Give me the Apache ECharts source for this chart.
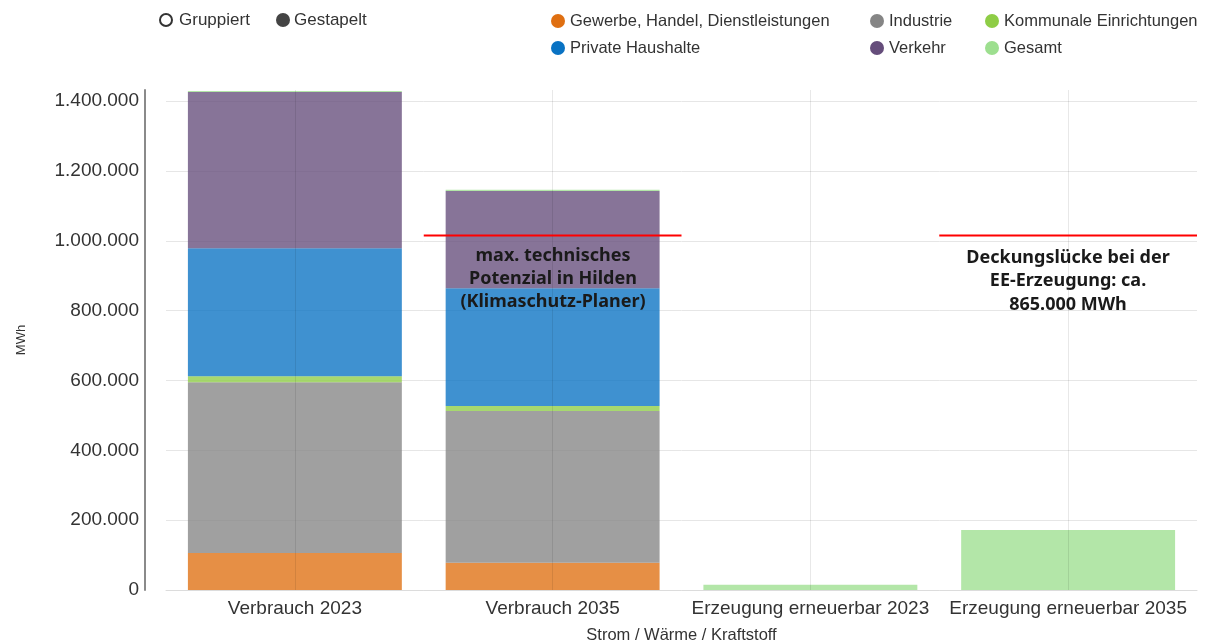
<!DOCTYPE html>
<html>
<head>
<meta charset="utf-8">
<title>Verbrauch und Erzeugung</title>
<script src="https://cdn.jsdelivr.net/npm/echarts@6/dist/echarts.min.js"></script>
<style>
  html, body { margin: 0; padding: 0; background: #fff; }
  #chart { width: 1216px; height: 644px; }
</style>
</head>
<body>
<div id="chart"></div>
<script>
// Kategorien auf der x-Achse
const categories = ['Verbrauch 2023', 'Verbrauch 2035', 'Erzeugung erneuerbar 2023', 'Erzeugung erneuerbar 2035']

// Werte in MWh
const gewerbe = [106000, 78000, 0, 0]
const industrie = [489000, 435000, 0, 0]
const kommunale = [17000, 14000, 0, 0]
const privat = [367000, 337000, 0, 0]
const verkehr = [447000, 279000, 0, 0]
const gesamt = [3000, 3000, 15000, 172000]

// max. technisches Potenzial (rote Linie)
const potenzial = 1015000

// y-Achse
const yMax = 1432000
const yStep = 200000

const seriesNames = ['Gewerbe, Handel, Dienstleistungen', 'Industrie', 'Kommunale Einrichtungen', 'Private Haushalte', 'Verkehr', 'Gesamt']
const seriesData = [gewerbe, industrie, kommunale, privat, verkehr, gesamt]
const seriesColors = ['#df6f11', '#858585', '#8ecd46', '#0972c3', '#654d7b', '#9ddf8f']

const font = '"Liberation Sans", Arial, sans-serif'

// Tausenderpunkt
function formatNumber(v) {
  return String(v).replace(/\B(?=(\d{3})+(?!\d))/g, '.')
}

const chart = echarts.init(document.getElementById('chart'))

const barSeries = seriesNames.map((name, i) => ({
  name: name,
  type: 'bar',
  stack: 'total',
  barCategoryGap: '17%',
  data: seriesData[i],
  itemStyle: { color: seriesColors[i], opacity: 0.78 }
}))

// senkrechte Gitterlinien in der Mitte jeder Kategorie
barSeries[barSeries.length - 1].markLine = {
  silent: true,
  symbol: 'none',
  label: { show: false },
  lineStyle: { color: 'rgba(0,0,0,0.09)', type: 'solid', width: 1 },
  data: categories.map(c => ({ xAxis: c }))
}

const redLine = (from, to) => ({
  type: 'line',
  xAxisIndex: 1,
  symbol: 'none',
  silent: true,
  lineStyle: { color: '#ff0000', width: 2 },
  data: [[from, potenzial], [to, potenzial]],
  z: 6
})

const legendBase = {
  orient: 'vertical',
  top: 6,
  icon: 'circle',
  itemWidth: 14,
  itemHeight: 14,
  itemGap: 7,
  itemStyle: { opacity: 1 },
  textStyle: { fontSize: 16.5, lineHeight: 20, color: '#333', fontFamily: font }
}

const option = {
  animation: false,
  textStyle: { fontFamily: font },
  legend: [
    Object.assign({}, legendBase, { left: 546, data: ['Gewerbe, Handel, Dienstleistungen', 'Private Haushalte'] }),
    Object.assign({}, legendBase, { left: 865, data: ['Industrie', 'Verkehr'] }),
    Object.assign({}, legendBase, { left: 980, data: ['Kommunale Einrichtungen', 'Gesamt'] })
  ],
  grid: { left: 166, right: 19, top: 90, bottom: 54, outerBoundsMode: 'none' },
  xAxis: [
    {
      type: 'category',
      data: categories,
      name: 'Strom / Wärme / Kraftstoff',
      nameLocation: 'middle',
      nameGap: 37,
      nameTextStyle: { fontSize: 16.5, color: '#333' },
      axisLine: { lineStyle: { color: '#dcdcdc' } },
      axisTick: { show: false },
      axisLabel: { fontSize: 19, color: '#333', margin: 9, interval: 0 }
    },
    {
      type: 'value',
      min: 0,
      max: categories.length,
      show: false
    }
  ],
  yAxis: {
    type: 'value',
    min: 0,
    max: yMax,
    interval: yStep,
    offset: 21,
    name: 'MWh',
    nameLocation: 'middle',
    nameGap: 117,
    nameTextStyle: { fontSize: 13, color: '#333' },
    axisLine: { show: true, onZero: false, lineStyle: { color: '#8a8a8a', width: 2 } },
    axisTick: { show: false },
    axisLabel: { fontSize: 19, color: '#333', margin: 6, padding: [4, 0, 0, 0], showMaxLabel: false, formatter: formatNumber },
    splitLine: { showMaxLine: false, lineStyle: { color: '#e6e6e6' } }
  },
  series: barSeries.concat([redLine(1, 2), redLine(3, 4)]),
  graphic: [
    // Umschalter Gruppiert / Gestapelt
    { type: 'circle', shape: { cx: 166, cy: 20, r: 6 }, style: { fill: '#fff', stroke: '#333', lineWidth: 2 } },
    { type: 'text', x: 179, y: 20, style: { text: 'Gruppiert', font: '17px ' + font, fill: '#333', textVerticalAlign: 'middle' } },
    { type: 'circle', shape: { cx: 283, cy: 20, r: 7 }, style: { fill: '#444' } },
    { type: 'text', x: 294, y: 20, style: { text: 'Gestapelt', font: '17px ' + font, fill: '#333', textVerticalAlign: 'middle' } },
    // Anmerkungen
    {
      type: 'text', x: 553, y: 244, z: 100,
      style: {
        text: 'max. technisches\nPotenzial in Hilden\n(Klimaschutz-Planer)',
        font: 'bold 18px "Noto Sans"', lineHeight: 23, fill: '#1a1a1a', textAlign: 'center'
      }
    },
    {
      type: 'text', x: 1068, y: 246, z: 100,
      style: {
        text: 'Deckungslücke bei der\nEE-Erzeugung: ca.\n865.000 MWh',
        font: 'bold 18px "Noto Sans"', lineHeight: 23.5, fill: '#1a1a1a', textAlign: 'center'
      }
    }
  ]
}

chart.setOption(option)
</script>
</body>
</html>
